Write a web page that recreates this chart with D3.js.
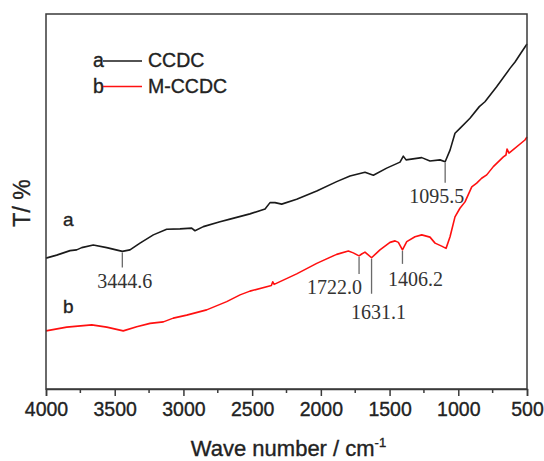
<!DOCTYPE html>
<html>
<head>
<meta charset="utf-8">
<script src="https://cdn.jsdelivr.net/npm/d3@7/dist/d3.min.js"></script>
<style>
  html, body { margin: 0; padding: 0; background: #fff; }
  svg { display: block; }
</style>
</head>
<body>
<svg id="chart" width="544" height="461"></svg>
<script>
// FTIR spectra: wavenumber (cm-1) and transmittance (arbitrary, offset) for each sample
const ccdcWave = [4000, 3922, 3825, 3777, 3740, 3656, 3558, 3444.6, 3389, 3316, 3219, 3122, 3025, 2940, 2916, 2855,
  2734, 2661, 2516, 2406, 2370, 2334, 2285, 2176, 2030, 1885, 1788, 1679, 1618, 1521, 1424, 1400, 1380, 1266,
  1206, 1133, 1095.5, 1060, 1024, 988, 915, 847, 806, 721, 624, 587, 544, 500];
const ccdcT = [34.9, 35.7, 36.9, 37.1, 37.7, 38.4, 37.7, 36.7, 37.1, 38.9, 41.1, 42.6, 42.7, 42.9, 42.2, 43.3,
  44.6, 45.3, 46.7, 48.0, 49.7, 49.7, 49.3, 50.6, 52.8, 55.3, 56.8, 57.8, 57.0, 58.9, 60.5, 62.1, 61.1, 61.7,
  60.8, 61.1, 60.6, 63.7, 68.2, 69.5, 72.2, 75.3, 76.6, 80.6, 85.5, 87.2, 89.6, 92.0];

const mccdcWave = [4000, 3849, 3667, 3558, 3438, 3340, 3243, 3146, 3074, 2976, 2831, 2685, 2588, 2516, 2360, 2350,
  2340, 2176, 2030, 1885, 1800, 1764, 1722.0, 1703, 1679, 1631.1, 1570, 1497, 1460, 1436, 1406.2, 1375, 1315,
  1266, 1206, 1169, 1121, 1089, 1060, 1024, 988, 951, 902, 866, 830, 793, 745, 672, 653, 645, 631, 515, 500];
const mccdcT = [15.5, 16.5, 17.1, 16.5, 15.5, 16.6, 17.5, 17.9, 18.9, 19.7, 21.1, 23.3, 25.1, 26.1, 27.6, 28.6,
  27.9, 30.7, 33.5, 35.9, 36.8, 36.3, 35.5, 36.0, 36.5, 35.0, 37.1, 39.1, 39.5, 39.1, 37.1, 39.3, 40.6,
  41.1, 40.5, 38.9, 38.1, 37.5, 40.6, 45.9, 48.2, 49.9, 53.9, 54.9, 56.2, 57.1, 59.3, 61.9, 62.4, 64.0, 62.9, 66.4, 67.2];

const seriesNames = ["CCDC", "M-CCDC"];
const seriesTags = ["a", "b"];
const seriesColors = ["#1a1a1a", "#ff1010"];

const xTicks = [4000, 3500, 3000, 2500, 2000, 1500, 1000, 500];
const xMinorTicks = [3750, 3250, 2750, 2250, 1750, 1250, 750];

// marked absorption bands: label, series index
const peakLabels = ["3444.6", "1095.5", "1722.0", "1631.1", "1406.2"];
const peakSeries = [0, 0, 1, 1, 1];

const svg = d3.select("#chart");
const margin = { left: 46, right: 17, top: 14, bottom: 72 };
const W = 544, H = 461;

const x = d3.scaleLinear().domain([4000, 500]).range([margin.left, W - margin.right]);
const y = d3.scaleLinear().domain([0, 100]).range([H - margin.bottom, margin.top]);

const sans = "'Liberation Sans', Arial, Helvetica, sans-serif";
const serif = "'Liberation Serif', 'Times New Roman', serif";
const ink = "#222";

// sans-serif text with a hairline outline for a slightly heavier stroke
function sansText(sel, size) {
  return sel.attr("font-family", sans).attr("font-size", size)
    .attr("fill", ink).attr("stroke", ink).attr("stroke-width", 0.35);
}

// spectra
const series = [
  ccdcWave.map((w, i) => [w, ccdcT[i]]),
  mccdcWave.map((w, i) => [w, mccdcT[i]])
];
const line = d3.line().x(d => x(d[0])).y(d => y(d[1]));

series.forEach((s, i) => {
  svg.append("path")
    .datum(s)
    .attr("fill", "none")
    .attr("stroke", seriesColors[i])
    .attr("stroke-width", 1.6)
    .attr("stroke-linejoin", "round")
    .attr("d", line);
});

// plot frame
svg.append("rect")
  .attr("x", x(4000)).attr("y", y(100))
  .attr("width", x(500) - x(4000)).attr("height", y(0) - y(100))
  .attr("fill", "none").attr("stroke", "#3a3a3a").attr("stroke-width", 1.5);

// bottom axis with major and minor ticks
const axis = svg.append("g")
  .attr("transform", `translate(0,${y(0)})`)
  .call(d3.axisBottom(x).tickValues(xTicks).tickSize(7).tickPadding(6).tickFormat(d3.format("d")));
axis.select(".domain").attr("stroke", "#3a3a3a").attr("stroke-width", 1.5);
axis.selectAll(".tick line").attr("stroke", "#3a3a3a").attr("stroke-width", 1.5);
sansText(axis.selectAll(".tick text"), 19.5);

svg.append("g")
  .attr("transform", `translate(0,${y(0)})`)
  .selectAll("line").data(xMinorTicks).join("line")
  .attr("x1", d => x(d)).attr("x2", d => x(d))
  .attr("y1", 0).attr("y2", 4)
  .attr("stroke", "#3a3a3a").attr("stroke-width", 1.5);

// axis titles
const xt = sansText(svg.append("text"), 22)
  .attr("x", (x(4000) + x(500)) / 2 + 2).attr("y", 456)
  .attr("text-anchor", "middle");
xt.append("tspan").text("Wave number / cm");
xt.append("tspan").attr("dy", -9).attr("font-size", 13).text("-1");

sansText(svg.append("text"), 23)
  .attr("transform", "translate(30,203) rotate(-90)")
  .attr("text-anchor", "middle")
  .text("T/ %");

// legend
const legend = svg.append("g");
seriesNames.forEach((name, i) => {
  const by = 67 + i * 25.5;
  sansText(legend.append("text"), 19.5).attr("x", 93).attr("y", by).text(seriesTags[i]);
  legend.append("line").attr("x1", 103).attr("x2", 142).attr("y1", by - 6).attr("y2", by - 6)
    .attr("stroke", seriesColors[i]).attr("stroke-width", 1.6);
  sansText(legend.append("text"), 19.5).attr("x", 148).attr("y", by).text(name);
});

// curve tags next to the left end of each spectrum
sansText(svg.append("text"), 19).attr("x", 63).attr("y", 226).text(seriesTags[0]);
sansText(svg.append("text"), 19).attr("x", 63).attr("y", 313).text(seriesTags[1]);

// band markers: a short drop line from the curve and the wavenumber below it
const markerLen = [15, 20, 17, 35, 13];
const labelGap = [21, 20, 20, 25, 22];
const labelDx = [2.5, -8.5, -24.5, 7, 13];

peakLabels.forEach((lab, i) => {
  const w = +lab;
  const s = series[peakSeries[i]];
  const interp = d3.scaleLinear().domain(s.map(d => d[0])).range(s.map(d => d[1]));
  const cy = y(interp(w)) + 1;
  const px = x(w);
  svg.append("line")
    .attr("x1", px).attr("x2", px).attr("y1", cy).attr("y2", cy + markerLen[i])
    .attr("stroke", "#6a6a6a").attr("stroke-width", 1.3);
  svg.append("text")
    .attr("x", px + labelDx[i]).attr("y", cy + markerLen[i] + labelGap[i])
    .attr("text-anchor", "middle")
    .attr("font-family", serif).attr("font-size", 20).attr("fill", "#333")
    .text(lab);
});
</script>
</body>
</html>
